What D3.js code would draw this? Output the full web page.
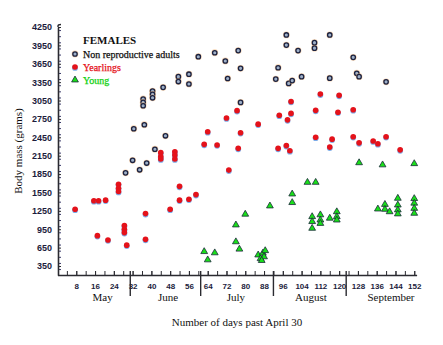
<!DOCTYPE html>
<html><head><meta charset="utf-8">
<script src="https://cdn.jsdelivr.net/npm/d3@7"></script>
<style>
html,body{margin:0;padding:0;background:#fff;}
svg{display:block;}
</style></head>
<body>
<svg id="chart" width="443" height="345"></svg>
<script>
// ---- data ----
const adults = [
 [29,1870],[32,2075],[32.5,2590],[35,1920],[36.5,3075],[36.5,3020],[36.5,2965],[37,2655],[38,2030],
 [40.5,3205],[40.5,3150],[40.5,3095],[41.5,2255],[45,3265],[46,2475],[51.5,3440],[51.5,3360],
 [56,3480],[56,3320],[60,3765],[67,3830],[71.5,3695],[72.5,3410],[77,3865],[78,3575],[78,3020],
 [93,3400],[94,3585],[97.5,4120],[97.5,3955],[98.5,3330],[100,3375],[102.5,3865],[104,3440],
 [109.5,3995],[109.5,3905],[116,4120],[116,3415],[126,3755],[127.5,3495],[128.5,3440],[140,3355]
];
const yearlings = [
 [7.5,1275],[15.5,1415],[17.5,1415],[20.5,1425],[17,845],[21.5,775],[26,1685],[26,1620],[26,1565],
 [28.5,1010],[28.5,950],[28.5,895],[29.5,690],[37.5,1205],[37.5,785],[44,2200],[44,2135],[44,2095],
 [48,1275],[50,2215],[50,2160],[50,2095],[52,1650],[52,1425],[56,1440],[59,1515],[62.5,2335],
 [64,2540],[68,2325],[72,2765],[73,1915],[76.5,2885],[77,2270],[78,2525],[85.5,2665],[94,2270],
 [94.5,2810],[97.5,2315],[98,2735],[99,2230],[99.5,3035],[99.5,2840],[110,2890],[110,2450],
 [112,3155],[116,2290],[117,2420],[119.5,2860],[120,3135],[126,2900],[126,2460],[128.5,2360],
 [134.5,2390],[136.5,2345],[140,2460],[146,2245]
];
const young = [
 [62.5,585],[64,450],[67,565],[76,1020],[76,745],[77.5,625],[80,1195],[85.5,530],[86.5,470],
 [87.5,560],[88,500],[88.5,600],[87,440],[90.5,1330],[100,1525],[100,1385],[106.5,1715],[110,1715],
 [108.5,1155],[108.5,1075],[108.5,965],[112,1185],[112,1100],[112,1045],[116,1130],[119,1235],
 [119,1155],[119,1100],[128.5,2035],[136.5,1280],[138.5,2000],[139.5,1355],[139.5,1275],[141.5,1235],
 [145,1455],[145,1345],[145,1265],[145,1200],[152,2020],[152,1450],[152,1375],[152,1290],[152,1210]
];
const xTickLabels = [8,16,24,32,40,48,56,64,72,80,88,96,104,112,120,128,136,144,152];
const xMinorTicks = d3.range(4,153,4);
const yTickLabels = [350,650,950,1250,1550,1850,2150,2450,2750,3050,3350,3650,3950,4250];
const yMinorTicks = d3.range(300,4300,100);
const monthNames = ["May","June","July","August","September"];
const monthCenters = [19.2,47.1,76,108,142.1];
const monthBreaks = [31,61,92,123];
const legendNames = ["Non reproductive adults","Yearlings","Young"];

// ---- scales ----
const x = d3.scaleLinear().domain([0,153]).range([57.5,416.6]);
const y = d3.scaleLinear().domain([200,4250]).range([275.2,27]);

const svg = d3.select("#chart");
const axisColor = "#2a2a30";

// minor ticks x
svg.append("g").attr("transform","translate(0,275)")
  .call(d3.axisBottom(x).tickValues(xMinorTicks).tickSize(-4).tickFormat(""))
  .call(g=>{g.select(".domain").remove(); g.selectAll("line").attr("stroke",axisColor).attr("stroke-width",1);});
// major x axis
svg.append("g").attr("transform","translate(0,275)")
  .call(d3.axisBottom(x).tickValues(xTickLabels).tickFormat(d3.format("d")).tickSize(-4).tickPadding(8).tickSizeOuter(0))
  .call(g=>{
    g.select(".domain").attr("stroke",axisColor).attr("stroke-width",1.6);
    g.selectAll("line").attr("stroke",axisColor).attr("stroke-width",1);
    g.selectAll("text").attr("font-family","'Liberation Sans Narrow','Liberation Sans',Arial,sans-serif")
      .attr("font-weight","bold").attr("font-size","8px").attr("fill","#1c1c3c");
  });
// y minor ticks
svg.append("g").attr("transform","translate(58,0)")
  .call(d3.axisLeft(y).tickValues(yMinorTicks.filter(v=>v>=200&&v<=4250)).tickSize(-3).tickFormat(""))
  .call(g=>{g.select(".domain").remove(); g.selectAll("line").attr("stroke","#3a3a6a").attr("stroke-width",1);});
// y axis
svg.append("g").attr("transform","translate(58,0)")
  .call(d3.axisLeft(y).tickValues(yTickLabels).tickFormat(d3.format("d")).tickSize(-3).tickPadding(6).tickSizeOuter(0))
  .call(g=>{
    g.select(".domain").attr("stroke",axisColor).attr("stroke-width",1.6);
    g.selectAll("line").attr("stroke",axisColor).attr("stroke-width",1);
    g.selectAll("text").attr("font-family","'Liberation Sans Narrow','Liberation Sans',Arial,sans-serif")
      .attr("font-weight","bold").attr("font-size","9px").attr("fill","#1c1c3c");
  });
// little hook at top of y axis
svg.append("path").attr("d",`M58,${y(4250)} L58,${y(4250)-1} Q58,${y(4250)-2.5} 61,${y(4250)-2.5}`)
  .attr("fill","none").attr("stroke",axisColor).attr("stroke-width",1.4);

// month separators
svg.append("g").selectAll("line").data(monthBreaks).join("line")
  .attr("x1",d=>x(d)).attr("x2",d=>x(d)).attr("y1",271).attr("y2",296)
  .attr("stroke",axisColor).attr("stroke-width",1.4);
// month names
svg.append("g").selectAll("text").data(monthNames).join("text")
  .attr("x",(d,i)=>x(monthCenters[i])).attr("y",301).attr("text-anchor","middle")
  .attr("font-family","'Liberation Serif','Times New Roman',serif").attr("font-size","11px")
  .attr("fill","#111").text(d=>d);

// axis titles
svg.append("text").attr("x",237).attr("y",326).attr("text-anchor","middle")
  .attr("font-family","'Liberation Serif','Times New Roman',serif").attr("font-size","11px")
  .attr("fill","#111").text("Number of days past April 30");
svg.append("text").attr("transform","translate(22,151) rotate(-90)").attr("text-anchor","middle")
  .attr("font-family","'Liberation Serif','Times New Roman',serif").attr("font-size","11px")
  .attr("fill","#111").text("Body mass (grams)");

// markers
function drawAdult(g, cx, cy){
  g.append("circle").attr("cx",cx).attr("cy",cy).attr("r",3.4).attr("fill","#f2b57a").attr("opacity",0.6);
  g.append("circle").attr("cx",cx).attr("cy",cy).attr("r",2.2).attr("fill","#9fb0c8")
    .attr("stroke","#1b2240").attr("stroke-width",1.3);
}
function drawYearling(g, cx, cy){
  g.append("circle").attr("cx",cx).attr("cy",cy+0.9).attr("r",2.9).attr("fill","#4f8fe0").attr("opacity",0.75);
  g.append("circle").attr("cx",cx).attr("cy",cy).attr("r",2.8).attr("fill","#e5121a");
}
const tri = d3.symbol().type(d3.symbolTriangle).size(20);
function drawYoung(g, cx, cy){
  g.append("path").attr("d",tri()).attr("transform",`translate(${cx},${cy})`)
    .attr("fill","#19e019").attr("stroke","#1a2a3a").attr("stroke-width",0.8);
}

const gA = svg.append("g");
adults.forEach(d=>drawAdult(gA, x(d[0]), y(d[1])));
const gY = svg.append("g");
yearlings.forEach(d=>drawYearling(gY, x(d[0]), y(d[1])));
const gG = svg.append("g");
young.forEach(d=>drawYoung(gG, x(d[0]), y(d[1])));

// legend
const lg = svg.append("g");
lg.append("text").attr("x",83).attr("y",44).attr("font-family","'Liberation Serif','Times New Roman',serif")
  .attr("font-weight","bold").attr("font-size","11px").attr("fill","#111").text("FEMALES");
const legY = [54,67,80];
const legColors = ["#111","#e5121a","#10d010"];
legendNames.forEach((n,i)=>{
  if(i===0) drawAdult(lg,75,legY[i]);
  else if(i===1) drawYearling(lg,75,legY[i]);
  else drawYoung(lg,75,legY[i]);
  lg.append("text").attr("x",83).attr("y",legY[i]+3.5)
    .attr("font-family","'Liberation Serif','Times New Roman',serif").attr("font-size","10px")
    .attr("fill",legColors[i]).attr("stroke",legColors[i]).attr("stroke-width",0.25).text(n);
});
</script>
</body></html>
